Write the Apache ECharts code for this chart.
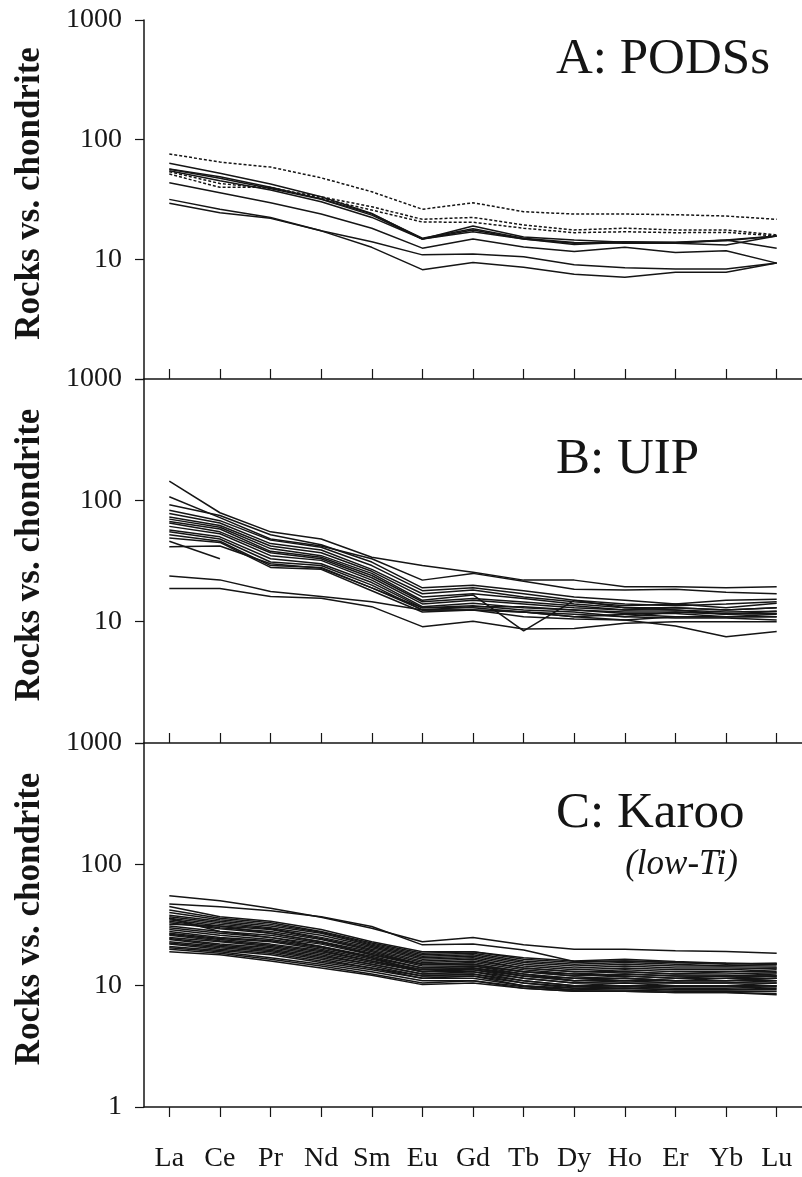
<!DOCTYPE html>
<html>
<head>
<meta charset="utf-8">
<title>REE patterns</title>
<script src="https://cdn.jsdelivr.net/npm/echarts@6/dist/echarts.min.js"></script>
<style>
  html, body { margin: 0; padding: 0; background: #fff; }
  #chart { width: 802px; height: 1177px; }
</style>
</head>
<body>
<div id="chart"></div>
<script>
// REE categories
const elements = ['La', 'Ce', 'Pr', 'Nd', 'Sm', 'Eu', 'Gd', 'Tb', 'Dy', 'Ho', 'Er', 'Yb', 'Lu']
const yTicks = [1, 10, 100, 1000]

// A: PODSs (solid samples, then dotted samples)
const podsSolid = [
  [63.4, 52.3, 42.6, 33.3, 24.2, 14.8, 19.0, 15.4, 14.5, 13.9, 13.9, 14.5, 15.7],
  [56.5, 47.5, 39, 31.7, 23.4, 14.8, 17.6, 14.8, 13.3, 13.9, 13.6, 14.5, 12.4],
  [55, 45.4, 37.9, 30.3, 22.4, 14.8, 17.0, 14.8, 13.6, 14.0, 13.8, 14.3, 15.7],
  [57, 49, 40, 32, 24, 15, 18, 15, 13.8, 13.6, 13.6, 13.2, 15.7],
  [43.6, 36, 29.7, 23.9, 18.2, 12.4, 14.8, 12.7, 11.6, 12.6, 11.4, 11.8, 9.3],
  [31.7, 26.2, 22.4, 17.3, 14.0, 10.9, 11.1, 10.5, 9.0, 8.5, 8.3, 8.3, 9.3],
  [29.4, 24.5, 22.0, 17.3, 12.6, 8.2, 9.4, 8.6, 7.5, 7.1, 7.8, 7.8, 9.3]
]
const podsDotted = [
  [76, 65, 59, 48, 36.7, 26.2, 29.7, 25, 23.9, 23.9, 23.6, 23, 21.6],
  [54, 43, 39, 33.3, 27.5, 21.6, 22.4, 19.4, 17.6, 18.2, 17.6, 17.6, 16.0],
  [51.6, 40, 40, 32.3, 25.8, 20.5, 20.4, 18.2, 16.7, 17.0, 16.7, 16.8, 15.7]
]

// B: UIP
const uip = [
  [144, 79, 55, 48, 34, 29, 25.5, 22, 22, 19.4, 19.4, 19, 19.4],
  [107, 72, 48, 42, 33, 22, 25, 21.5, 18.5, 18.2, 18.5, 17.5, 17],
  [92, 75, 52, 43, 31, 19, 20, 18, 16, 15, 14, 15, 15.3],
  [83, 68, 47, 41, 29, 18, 19, 17, 15, 14, 13.5, 14, 14.6],
  [78, 65, 44, 39, 27, 17, 18.2, 16, 14.6, 13.5, 14, 13, 14.2],
  [73, 62, 42, 37, 26, 16, 17, 15.5, 14, 13, 13, 12.5, 13],
  [70, 60, 40, 35, 25, 15, 16.6, 8.4, 15, 13, 12.5, 12, 12.2],
  [67, 58, 38, 34, 24, 14.6, 15.5, 14.5, 13.5, 12.5, 13, 12.5, 13],
  [65, 55, 37, 33, 23, 14, 15, 14, 13, 12.5, 12.5, 11.5, 11.7],
  [61, 53, 35, 32, 22, 13.3, 14.2, 13, 12.5, 12, 12, 11.5, 12.2],
  [57, 50, 33, 30, 21, 13, 13.5, 12.5, 12, 11, 12, 11.7, 11.7],
  [55, 48, 31, 29, 20, 12.5, 13.3, 13.3, 12.5, 11.7, 11.7, 11, 11.5],
  [52, 46, 29, 28, 19, 12.5, 12.5, 11, 10.5, 10.3, 11, 11, 11],
  [49, 45, 28, 27, 18, 12, 12.5, 12, 11.5, 11, 10.7, 10.7, 10.3],
  [46, 33],
  [41.5, 42, 30, 27.5, 19, 13, 13, 12, 11, 11.5, 11, 11, 11],
  [23.8, 22.1, 17.7, 16.1, 14.6, 12.5, 12.5, 12, 11, 10.3, 9.2, 7.5, 8.3],
  [18.8, 18.8, 16.1, 15.6, 13.3, 9.1, 10.1, 8.7, 8.8, 9.7, 10, 10, 10]
]

// C: Karoo (low-Ti)
const karoo = [
  [55, 50, 43.5, 36.6, 29.7, 23, 25, 21.7, 20, 20, 19.4, 19.1, 18.5],
  [47, 44.8, 41.5, 37, 30.7, 21.7, 22, 19.7, 15.8, 16, 15.5, 15.3, 15],
  [45, 37, 34, 29, 23, 19, 19, 17, 16, 16.5, 15.8, 15.3, 15.2],
  [42, 36, 33, 28, 22.5, 18.5, 19, 16.5, 15.5, 16, 15.5, 15, 15.3],
  [40, 35, 32, 27.5, 22, 18, 18.5, 16, 15, 15.5, 15, 14.5, 15],
  [38, 34, 31, 27, 21.5, 17.5, 18, 15.5, 14.5, 15, 14.5, 14.5, 14.5],
  [37, 33, 30, 26, 21, 17, 17.5, 15, 14, 14.5, 14, 14, 14],
  [36, 32, 29.5, 25, 20.5, 16.5, 17, 14.5, 13.5, 14, 13.5, 13.5, 14],
  [36, 28, 25, 21, 17, 13, 14, 12, 11, 11.5, 11, 11, 11.5],
  [35, 31, 29, 24.5, 20, 16, 16.5, 14, 13, 13.5, 13, 13, 13.5],
  [34, 30, 28, 24, 19.5, 15.5, 16, 14, 13, 13, 12.5, 13, 13],
  [33, 29.5, 27, 23, 19, 15, 15.5, 13.5, 12.5, 13, 12.5, 12.5, 12.8],
  [32, 31, 27, 23, 18, 15, 15, 13, 12.5, 12, 11.5, 12, 12],
  [31, 28, 26, 22.5, 18.5, 15, 15, 13, 12, 12.5, 12, 12, 12.5],
  [30, 27, 25, 22, 18, 14.5, 14.5, 13, 12, 12.5, 12, 12, 12],
  [29, 26, 24, 21, 17.5, 14, 14.5, 12.5, 11.5, 12, 11.5, 11.5, 12],
  [28, 25, 23.5, 20.5, 17, 14, 14, 12, 11.5, 11.5, 11, 11.5, 11.5],
  [27, 24.5, 23, 20, 16.5, 13.5, 14, 12.5, 11, 11.5, 11, 11, 11.5],
  [26.5, 24, 22, 19.5, 16, 13.5, 13.5, 12, 11, 11, 11, 11, 11],
  [26, 23.5, 21.5, 19, 16, 13, 13.5, 11.5, 10.5, 11, 10.5, 10.5, 11],
  [25, 23, 21, 18.5, 15.5, 13, 13, 11.5, 10.5, 10.5, 10.5, 10.5, 10.5],
  [24.5, 22, 20.5, 18, 15, 12.5, 13, 11, 10, 10.5, 10, 10, 10.5],
  [24, 21.5, 20, 17.5, 15, 12.5, 12.5, 11, 10, 10, 10, 10, 10],
  [23, 21, 19.5, 17, 14.5, 12, 12.5, 10.5, 9.8, 10, 9.8, 9.8, 10],
  [22.5, 20.5, 19, 16.5, 14, 12, 12, 10.5, 9.5, 9.8, 9.5, 9.5, 9.8],
  [22, 20, 18.5, 16, 14, 11.5, 12, 10, 9.5, 9.5, 9.3, 9.3, 9.5],
  [21, 19.5, 18, 15.5, 13.5, 11.5, 11.5, 10, 9.2, 9.5, 9.2, 9.2, 9.3],
  [20.5, 19, 17, 15, 13, 11, 11, 9.8, 9.2, 9.2, 9, 9, 9],
  [20, 18.5, 16.5, 14.5, 12.5, 10.5, 11, 9.5, 9, 9, 8.8, 8.8, 8.6],
  [19, 18, 16, 14, 12.2, 10.2, 10.5, 9.5, 9, 9, 8.8, 8.8, 8.4]
]

const serif = '"Liberation Serif", "Times New Roman", serif'
const ink = '#151515'

const grids = [
  { left: 144, right: -1, top: 20, height: 359 },
  { left: 144, right: -1, top: 379, height: 364 },
  { left: 144, right: -1, top: 743, height: 364 }
]

const makeX = (i) => ({
  type: 'category',
  gridIndex: i,
  data: elements,
  boundaryGap: true,
  axisLine: { show: true, lineStyle: { color: ink, width: 1.5 } },
  axisTick: {
    show: true,
    interval: 0,
    alignWithLabel: true,
    inside: i < 2,
    length: 10,
    lineStyle: { color: ink, width: 1.2 }
  },
  axisLabel: {
    show: i === 2,
    interval: 0,
    margin: 38,
    color: ink,
    fontFamily: serif,
    fontSize: 28
  },
  splitLine: { show: false }
})

const makeY = (i) => ({
  type: 'log',
  gridIndex: i,
  logBase: 10,
  min: yTicks[0],
  max: yTicks[yTicks.length - 1],
  splitNumber: 3,
  name: 'Rocks vs. chondrite',
  nameLocation: 'middle',
  nameRotate: 90,
  nameGap: 97,
  nameTextStyle: {
    fontFamily: serif,
    fontWeight: 'bold',
    fontSize: 35,
    color: ink,
    padding: [0, 0, 0, 12]
  },
  axisLine: { show: true, lineStyle: { color: ink, width: 1.5 } },
  axisTick: { show: true, length: 9, lineStyle: { color: ink, width: 1.2 } },
  axisLabel: {
    margin: 22,
    color: ink,
    fontFamily: serif,
    fontSize: 28,
    formatter: (v) => {
      const n = Math.round(v)
      if (i < 2 && n === 1) return ''
      return yTicks.indexOf(n) >= 0 ? String(n) : ''
    }
  },
  splitLine: { show: false }
})

const lineSeries = (rows, panel, dash) => rows.map((row) => ({
  type: 'line',
  xAxisIndex: panel,
  yAxisIndex: panel,
  data: row,
  symbol: 'none',
  silent: true,
  lineStyle: { color: ink, width: 1.5, type: dash ? [3, 2] : 'solid' }
}))

const series = [
  ...lineSeries(podsSolid, 0, false),
  ...lineSeries(podsDotted, 0, true),
  ...lineSeries(uip, 1, false),
  ...lineSeries(karoo, 2, false)
]

const panelTitle = (text, x, y, size, extra) => ({
  type: 'text',
  x: x,
  y: y,
  style: Object.assign({
    text: text,
    font: size + 'px ' + serif,
    fill: ink,
    textAlign: 'left',
    textVerticalAlign: 'middle'
  }, extra || {})
})

const chart = echarts.init(document.getElementById('chart'))
chart.setOption({
  animation: false,
  backgroundColor: '#fff',
  grid: grids,
  xAxis: [0, 1, 2].map(makeX),
  yAxis: [0, 1, 2].map(makeY),
  series: series,
  graphic: [
    panelTitle('A: PODSs', 556, 60, 51),
    panelTitle('B: UIP', 556, 460, 51),
    panelTitle('C: Karoo', 556, 814, 51),
    panelTitle('(low-Ti)', 738, 865, 35, { font: 'italic 35px ' + serif, textAlign: 'right' })
  ]
})
</script>
</body>
</html>
